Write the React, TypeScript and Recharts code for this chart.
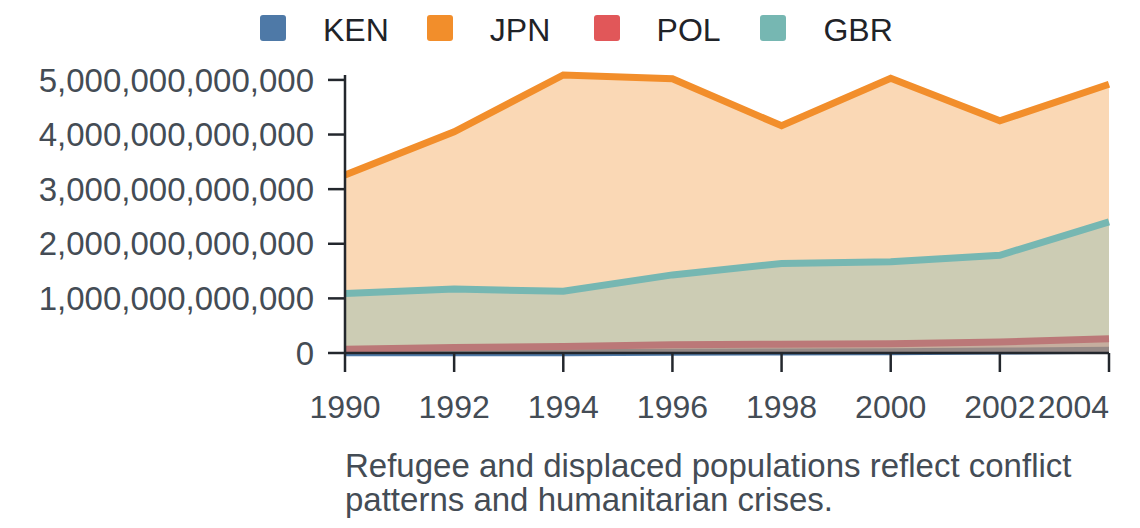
import { AreaChart, Area, XAxis, YAxis } from "recharts";

// Years on the x axis
const YEARS = ["1990", "1992", "1994", "1996", "1998", "2000", "2002", "2004"];

// Series values
const KEN = [3e9, 4e9, 5e9, 1.2e10, 2.0e10, 2.5e10, 3.5e10, 5e10];
const JPN = [3.26e12, 4.05e12, 5.09e12, 5.02e12, 4.16e12, 5.03e12, 4.25e12, 4.92e12];
const POL = [7e10, 1.0e11, 1.2e11, 1.5e11, 1.6e11, 1.7e11, 2.0e11, 2.6e11];
const GBR = [1.09e12, 1.17e12, 1.13e12, 1.43e12, 1.64e12, 1.67e12, 1.79e12, 2.4e12];

const Y_TICKS = [0, 1e12, 2e12, 3e12, 4e12, 5e12];

const SERIES = [
  { key: "KEN", color: "#4e79a7", values: KEN },
  { key: "JPN", color: "#f28e2b", values: JPN },
  { key: "POL", color: "#e15759", values: POL },
  { key: "GBR", color: "#76b7b2", values: GBR },
];

const CAPTION =
  "Refugee and displaced populations reflect conflict patterns and humanitarian crises.";

const FONT = '"Liberation Sans", Arial, Helvetica, sans-serif';
const AXIS_COLOR = "#23272d";
const LABEL_COLOR = "#444c55";

const data = YEARS.map((year, i) => {
  const row: Record<string, string | number> = { year };
  SERIES.forEach((s) => {
    row[s.key] = s.values[i];
  });
  return row;
});

function YearTick(props: any) {
  const { x, y, payload, index } = props;
  const last = index === YEARS.length - 1;
  return (
    <text
      x={x}
      y={y}
      dy="0.71em"
      textAnchor={last ? "end" : "middle"}
      fill={LABEL_COLOR}
      fontSize={32}
      fontFamily={FONT}
    >
      {payload.value}
    </text>
  );
}

function LegendRow() {
  return (
    <div
      style={{
        position: "absolute",
        left: 260,
        top: 15,
        display: "flex",
        alignItems: "flex-start",
        fontFamily: FONT,
      }}
    >
      {SERIES.map((s) => (
        <div
          key={s.key}
          style={{ display: "flex", alignItems: "flex-start", width: 166.8 }}
        >
          <div
            style={{
              width: 26,
              height: 26,
              borderRadius: 3,
              background: s.color,
              marginRight: 37,
            }}
          />
          <span
            style={{
              fontSize: 32,
              lineHeight: "26px",
              color: "#1f2328",
              position: "relative",
              top: 1.5,
            }}
          >
            {s.key}
          </span>
        </div>
      ))}
    </div>
  );
}

export default function App() {
  return (
    <div
      style={{
        position: "absolute",
        left: 0,
        top: 0,
        width: 1140,
        height: 528,
        background: "#fff",
        fontFamily: FONT,
      }}
    >
      <LegendRow />
      <AreaChart
        width={1140}
        height={440}
        data={data}
        margin={{ top: 75, right: 31, bottom: 0, left: 0 }}
      >
        <XAxis
          dataKey="year"
          height={87}
          interval={0}
          tickSize={19}
          tickMargin={23}
          axisLine={{ stroke: AXIS_COLOR, strokeWidth: 2.5 }}
          tickLine={{ stroke: AXIS_COLOR, strokeWidth: 2.5 }}
          tick={<YearTick />}
        />
        <YAxis
          type="number"
          width={345}
          domain={[0, 5.09e12]}
          ticks={Y_TICKS}
          interval={0}
          tickSize={17}
          tickMargin={14}
          tickFormatter={(v: number) => v.toLocaleString("en-US")}
          axisLine={{ stroke: AXIS_COLOR, strokeWidth: 2.5 }}
          tickLine={{ stroke: AXIS_COLOR, strokeWidth: 2.5 }}
          tick={{ fill: LABEL_COLOR, fontSize: 33, fontFamily: FONT }}
        />
        {SERIES.map((s) => (
          <Area
            key={s.key}
            type="linear"
            dataKey={s.key}
            stroke={s.color}
            strokeWidth={7}
            fill={s.color}
            fillOpacity={0.35}
            dot={false}
            activeDot={false}
            isAnimationActive={false}
          />
        ))}
      </AreaChart>
      <div
        style={{
          position: "absolute",
          left: 345,
          top: 449,
          width: 750,
          fontSize: 33,
          lineHeight: "34px",
          color: LABEL_COLOR,
        }}
      >
        {CAPTION}
      </div>
    </div>
  );
}
